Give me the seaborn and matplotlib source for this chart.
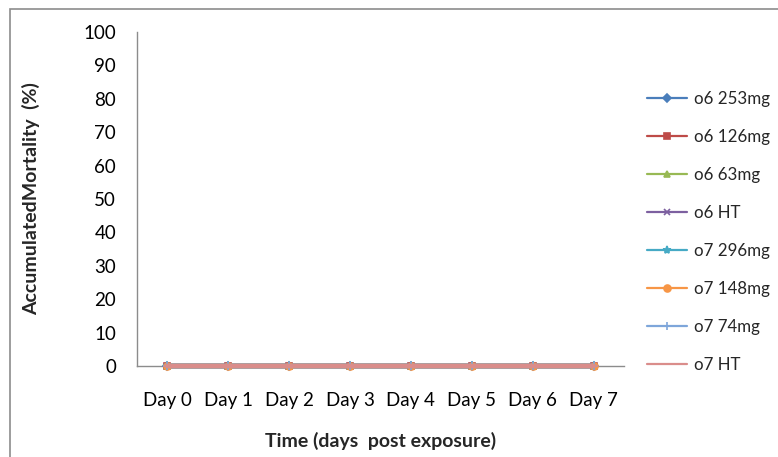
import matplotlib
matplotlib.use("Agg")
import matplotlib.pyplot as plt
from matplotlib.lines import Line2D
from matplotlib.patches import Rectangle
import pandas as pd
import seaborn as sns

days = ["Day 0", "Day 1", "Day 2", "Day 3", "Day 4", "Day 5", "Day 6", "Day 7"]
series_names = ["o6 253mg", "o6 126mg", "o6 63mg", "o6 HT",
                "o7 296mg", "o7 148mg", "o7 74mg", "o7 HT"]
o6_253mg = [0, 0, 0, 0, 0, 0, 0, 0]
o6_126mg = [0, 0, 0, 0, 0, 0, 0, 0]
o6_63mg = [0, 0, 0, 0, 0, 0, 0, 0]
o6_ht = [0, 0, 0, 0, 0, 0, 0, 0]
o7_296mg = [0, 0, 0, 0, 0, 0, 0, 0]
o7_148mg = [0, 0, 0, 0, 0, 0, 0, 0]
o7_74mg = [0, 0, 0, 0, 0, 0, 0, 0]
o7_ht = [0, 0, 0, 0, 0, 0, 0, 0]
values = [o6_253mg, o6_126mg, o6_63mg, o6_ht, o7_296mg, o7_148mg, o7_74mg, o7_ht]
y_ticks = [0, 10, 20, 30, 40, 50, 60, 70, 80, 90, 100]

colors = ["#4A7EBB", "#BE4B48", "#98B954", "#7D60A0",
          "#46AAC5", "#F79646", "#7EA6DA", "#DA8D8B"]
markers = ["D", "s", "^", "x", "*", "o", "+", "_"]
msizes = [4, 5, 5, 5, 6, 5, 6, 6]

sns.set_theme(style="white")
plt.rcParams["font.family"] = ["Lato", "DejaVu Sans"]

rows = []
for name, vals in zip(series_names, values):
    for i, (d, v) in enumerate(zip(days, vals)):
        rows.append({"series": name, "pos": i, "day": d, "value": v})
df = pd.DataFrame(rows)

fig = plt.figure(figsize=(7.78, 4.57), dpi=100)
ax = fig.add_axes([137 / 778, 1 - 366 / 457, (624 - 137) / 778, (366 - 32) / 457])

for name, col, mk, ms in zip(series_names, colors, markers, msizes):
    sub = df[df["series"] == name]
    sns.lineplot(data=sub, x="pos", y="value", ax=ax, color=col, marker=mk,
                 markersize=ms, linewidth=3.2, markeredgecolor=col,
                 markeredgewidth=1.2, legend=False, clip_on=False, zorder=3)

ax.set_xlim(-0.5, 7.5)
ax.set_ylim(0, 100)
ax.set_xticks(range(len(days)))
ax.set_xticklabels(days)
ax.set_yticks(y_ticks)
ax.tick_params(axis="both", labelsize=13.5, colors="black", length=0)
ax.tick_params(axis="x", pad=19)
ax.tick_params(axis="y", pad=15)
ax.set_xlabel("Time (days  post exposure)", fontsize=14, fontweight="bold", labelpad=16)
ax.set_ylabel("AccumulatedMortality  (%)", fontsize=14, fontweight="bold", labelpad=31)
for side in ["top", "right"]:
    ax.spines[side].set_visible(False)
for side in ["left", "bottom"]:
    ax.spines[side].set_color("#8C8C8C")
    ax.spines[side].set_linewidth(1.0)
ax.grid(False)

handles = [Line2D([0], [0], color=c, marker=m, markersize=s, linewidth=1.6,
                  markeredgecolor=c, markeredgewidth=1.2)
           for c, m, s in zip(colors, markers, msizes)]
fig.legend(handles, series_names, loc="upper left",
           bbox_to_anchor=(640 / 778, 1 - 84 / 457), frameon=False,
           fontsize=12.2, handlelength=2.35, handletextpad=0.45,
           labelspacing=1.3, borderaxespad=0)

# outer chart-area frame
fig.patches.append(Rectangle((10 / 778, -0.1), 1.2, 1 - 9 / 457 + 0.1,
                             transform=fig.transFigure, fill=False,
                             edgecolor="#8C8C8C", linewidth=1.2))

fig.savefig("out.png", dpi=100)
